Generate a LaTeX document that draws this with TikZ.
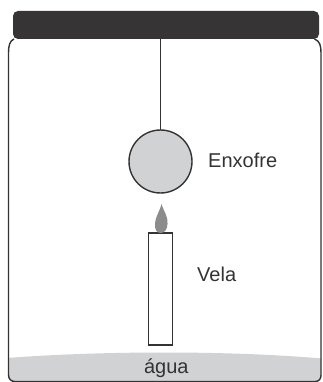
\documentclass[tikz,border=0pt]{standalone}
\usepackage{fontspec}
\setmainfont{Liberation Sans}
\definecolor{ink}{HTML}{333333}
\definecolor{lidgray}{HTML}{363435}
\definecolor{lightgray}{HTML}{D1D2D4}
\definecolor{flamegray}{HTML}{8C8C8C}
\tikzset{
  x=1pt, y=-1pt,
  outline/.style={draw=ink, line width=1.4pt},
  label/.style={text=ink, font=\fontsize{20}{23}\selectfont, inner sep=0pt},
}
\begin{document}
\begin{tikzpicture}
\useasboundingbox (0,0) rectangle (322,382);
% jar interior shape, reused for the water and the outline
\def\jarpath{(14,39) .. controls (9.5,41) and (8.5,46) .. (8.5,53) -- (8.5,375)
  .. controls (8.5,379) and (11,381.5) .. (15,381.5) -- (315,381.5)
  .. controls (319,381.5) and (321,379) .. (321,375) -- (321,53)
  .. controls (321,46) and (320,41) .. (314.5,39)}
% water at the bottom of the jar
\begin{scope}
  \clip \jarpath -- cycle;
  \fill[lightgray] (0,358.5) .. controls (100,350.5) and (230,350.5) .. (322,358.5)
    -- (322,382) -- (0,382) -- cycle;
\end{scope}
% jar outline
\draw[outline] \jarpath;
% lid
\fill[lidgray, rounded corners=5pt] (13,11) rectangle (319,39);
% string holding the sulfur ball
\coordinate (hook) at (160.5,39);
\coordinate (balltop) at (160.5,130);
\draw[outline] (hook) -- (balltop);
% sulfur ball
\draw[outline, fill=lightgray] (160.5,161.5) circle[radius=31.5];
% candle body
\draw[outline, fill=white] (148.5,233) rectangle (172.5,345);
% flame
\fill[flamegray] (161.5,204) .. controls (164,212) and (168,216) .. (167.5,224)
  .. controls (167,230) and (164.5,233) .. (160.5,233)
  .. controls (156.5,233) and (154.5,229) .. (155,224)
  .. controls (155.5,216) and (159.5,212) .. (161.5,204) -- cycle;
% labels
\node[label, anchor=base west] (enxofre) at (208,167.3) {Enxofre};
\node[label, anchor=base west] (vela) at (197,281.7) {Vela};
\node[label, anchor=base] (agua) at (166.3,373.3) {água};
\end{tikzpicture}
\end{document}
